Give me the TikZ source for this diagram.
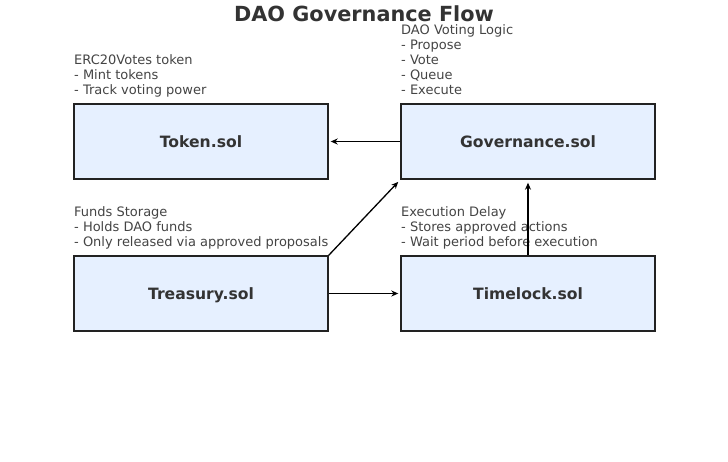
\documentclass[tikz,border=0pt]{standalone}
\usepackage{fontspec}
\setmainfont{DejaVu Sans}
\usetikzlibrary{arrows.meta}
\definecolor{boxfill}{HTML}{E6F0FF}
\definecolor{boxline}{HTML}{222222}
\definecolor{txt}{HTML}{333333}
\definecolor{note}{HTML}{444444}
\tikzset{
  module/.style={draw=boxline, fill=boxfill, line width=1.4pt, minimum width=254pt, minimum height=75pt, inner sep=0pt, text height=11.4pt, text depth=0pt, font=\fontsize{15.6}{18}\selectfont\bfseries, text=txt},
  notetext/.style={anchor=south west, inner sep=0pt, align=left, text depth=3pt, text=note, font=\fontsize{13}{15}\selectfont},
  flow/.style={draw=black, line width=1.3pt, -{Stealth[length=7pt,width=6pt]}}
}
\begin{document}
\begin{tikzpicture}[x=1pt,y=-1pt]
\useasboundingbox (0,0) rectangle (728,461);
\node[text=txt, font=\fontsize{20.8}{24}\selectfont\bfseries] (title) at (364,13.5) {DAO Governance Flow};
\node[module] (token) at (201,141.5) {Token.sol};
\node[module] (gov) at (528,141.5) {Governance.sol};
\node[module] (treas) at (201,293.5) {Treasury.sol};
\node[module] (time) at (528,293.5) {Timelock.sol};
\node[notetext] (ntoken) at (74,97.4) {ERC20Votes token\\- Mint tokens\\- Track voting power};
\node[notetext] (ngov) at (401,97.4) {DAO Voting Logic\\- Propose\\- Vote\\- Queue\\- Execute};
\node[notetext] (ntreas) at (74,249.4) {Funds Storage\\- Holds DAO funds\\- Only released via approved proposals};
\node[notetext] (ntime) at (401,249.4) {Execution Delay\\- Stores approved actions\\- Wait period before execution};
\draw[flow, shorten >=2pt] (gov.west) -- (token.east);
\draw[flow, shorten >=2pt] (treas.east) -- (time.west);
\draw[flow, shorten >=3pt] (time.north) -- (gov.south);
\draw[flow, shorten >=3pt] (treas.north east) -- (gov.south west);
\end{tikzpicture}
\end{document}
